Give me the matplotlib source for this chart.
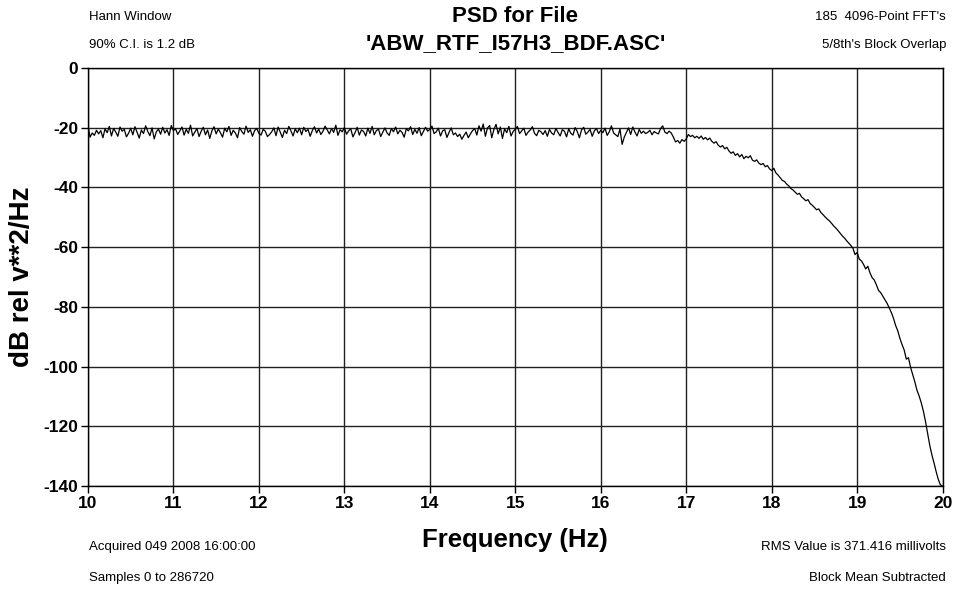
import numpy as np
from matplotlib import pyplot as plt

# PSD, one value every 0.025 Hz from 10 to 20 Hz
freq_start = 10.0
freq_stop = 20.0
psd_db = [
    -19.5, -23.2, -21.8, -22.6, -20.9, -22.1, -21.0, -23.4, -20.4, -21.7, -19.6, -22.8, -20.3, -21.5, -22.9, -19.8, -21.2, -20.6, -23.1, -21.9,
    -20.2, -22.4, -19.7, -21.6, -23.5, -20.8, -22.0, -19.4, -21.3, -22.7, -20.1, -23.8, -21.4, -20.5, -22.2, -19.9, -21.8, -20.7, -22.6, -19.3,
    -21.0, -20.4, -22.3, -21.1, -19.8, -22.5, -20.6, -21.9, -19.2, -22.8, -21.5, -20.3, -23.0, -21.2, -19.9, -22.4, -20.8, -23.6, -21.1, -19.7,
    -22.1, -20.5, -21.7, -23.2, -20.2, -21.4, -19.6, -22.6, -20.9, -21.8, -23.4, -20.0, -21.3, -22.2, -19.5, -21.6, -20.7, -22.9, -21.0, -20.3,
    -21.9, -22.5, -20.6, -21.2, -23.0, -22.3, -21.4, -20.1, -22.7, -19.8, -21.5, -23.3, -20.9, -22.0, -19.6, -21.1, -22.8, -20.4, -21.7, -20.2,
    -22.4, -19.9, -21.3, -20.6, -22.9, -21.0, -19.7, -21.8, -20.5, -22.3, -21.2, -19.5, -20.8, -22.1, -20.3, -21.6, -19.2, -22.6, -20.7, -21.4,
    -20.0, -22.2, -21.1, -20.4, -23.1, -21.7, -19.9, -22.5, -20.8, -21.3, -22.8, -20.2, -21.9, -19.6, -22.4, -21.0, -20.5, -23.0, -21.5, -20.1,
    -21.8, -22.6, -20.3, -21.4, -19.8, -22.1, -20.9, -21.6, -23.2, -20.4, -21.1, -19.7, -22.3, -20.6, -21.9, -20.0, -22.7, -21.3, -19.9, -21.2,
    -20.6, -19.5, -22.0, -21.4, -20.2, -22.8, -21.1, -20.7, -23.3, -21.6, -20.1, -22.4, -21.8, -23.0, -22.2, -23.9, -22.6, -21.5, -23.4, -22.1,
    -21.0, -20.3, -22.5, -19.4, -21.2, -18.8, -22.9, -20.1, -19.3, -23.4, -20.6, -18.9, -22.1, -19.8, -23.6, -20.4, -21.7, -19.6, -22.8, -21.3,
    -20.5, -19.6, -22.0, -21.1, -20.2, -22.6, -21.5, -20.8, -19.7, -21.9, -22.7, -20.9, -21.4, -22.3, -21.0, -22.9, -20.6, -21.8, -22.4, -20.3,
    -21.6, -22.8, -20.7, -21.2, -23.1, -20.4, -21.9, -22.5, -20.0, -21.3, -23.4, -20.8, -19.9, -22.2, -21.5, -20.6, -22.9, -21.1, -20.3, -22.0,
    -20.9, -21.7, -20.2, -22.6, -21.4, -19.4, -21.8, -22.4, -23.0, -20.5, -25.6, -23.2, -21.6, -20.1, -22.3, -19.8, -21.5, -22.8, -20.6, -21.9,
    -21.2, -22.0, -21.6, -20.9, -22.4, -21.3, -21.8, -22.1, -20.3, -19.4, -21.5, -22.0, -21.2, -21.8, -23.2, -24.8, -24.3, -25.2, -24.0, -24.6,
    -23.8, -22.3, -23.0, -22.6, -23.4, -22.9, -23.6, -22.8, -23.9, -23.3, -24.1, -23.5, -24.6, -25.2, -24.7, -25.9, -26.5, -26.0, -27.1, -26.6,
    -27.8, -28.6, -28.1, -29.3, -28.7, -29.8, -29.0, -30.4, -29.6, -30.1, -29.4, -30.9, -31.3, -30.8, -31.9, -32.4, -32.0, -33.1, -32.7, -33.8,
    -34.4, -33.6, -35.2, -35.9, -36.8, -37.7, -38.0, -38.9, -39.5, -40.4, -40.9, -41.6, -42.3, -42.0, -43.2, -43.8, -44.5, -44.1, -45.4, -46.0,
    -46.7, -47.5, -47.2, -48.4, -49.1, -49.9, -50.6, -51.2, -52.0, -52.9, -53.6, -54.4, -55.3, -56.2, -56.9, -57.8, -58.6, -59.4, -60.3, -62.5,
    -61.8, -64.0, -64.6, -65.8, -67.3, -66.4, -68.6, -70.2, -71.0, -72.6, -74.5, -75.2, -76.4, -77.6, -78.8, -80.3, -81.9, -83.8, -86.2, -88.0,
    -90.5, -92.6, -94.4, -97.5, -97.0, -100.2, -102.6, -105.1, -107.9, -109.8, -112.1, -114.9, -118.4, -122.5, -126.4, -129.6, -132.3, -135.2, -137.8, -139.6,
    -140.0,
]
freqs = np.linspace(freq_start, freq_stop, len(psd_db))

x_ticks = [10, 11, 12, 13, 14, 15, 16, 17, 18, 19, 20]
y_ticks = [0, -20, -40, -60, -80, -100, -120, -140]

title_lines = ["PSD for File", "'ABW_RTF_I57H3_BDF.ASC'"]
top_left = ["Hann Window", "90% C.I. is 1.2 dB"]
top_right = ["185  4096-Point FFT's", "5/8th's Block Overlap"]
bottom_left = ["Acquired 049 2008 16:00:00", "Samples 0 to 286720"]
bottom_right = ["RMS Value is 371.416 millivolts", "Block Mean Subtracted"]

plt.rcParams['axes.unicode_minus'] = False
font = ['Liberation Sans', 'DejaVu Sans']

fig = plt.figure(figsize=(9.56, 5.9), dpi=100)
ax = fig.add_axes([0.092, 0.176, 0.894, 0.709])

ax.plot(freqs, psd_db, color='black', lw=0.9)
ax.set_xlim(10, 20)
ax.set_ylim(-140, 0)
ax.set_xticks(x_ticks)
ax.set_yticks(y_ticks)
ax.grid(True, color='#222222', lw=1.0)
for sp in ax.spines.values():
    sp.set_color('black')
    sp.set_linewidth(1.0)
ax.tick_params(direction='out', length=5, width=1, color='black', pad=2)
for lab in ax.get_xticklabels() + ax.get_yticklabels():
    lab.set_family(font)
    lab.set_fontweight('bold')
    lab.set_fontsize(12.5)

ax.set_xlabel("Frequency (Hz)", family=font, fontweight='bold', fontsize=18.5)
ax.xaxis.set_label_coords(0.5, (486 - 540) / 418)
ax.xaxis.label.set_va('center')
ax.set_ylabel("dB rel v**2/Hz", family=font, fontweight='bold', fontsize=20)
ax.yaxis.set_label_coords((22 - 88) / 855, 0.5)
ax.yaxis.label.set_va('center')

# header and footer notes
fig.text(0.539, 1 - 17 / 590, title_lines[0], ha='center', va='center', family=font, fontweight='bold', fontsize=16)
fig.text(0.539, 1 - 44 / 590, title_lines[1], ha='center', va='center', family=font, fontweight='bold', fontsize=16)
fig.text(89 / 956, 1 - 17 / 590, top_left[0], ha='left', va='center', family=font, fontsize=9.5)
fig.text(89 / 956, 1 - 45 / 590, top_left[1], ha='left', va='center', family=font, fontsize=9.5)
fig.text(946 / 956, 1 - 17 / 590, top_right[0], ha='right', va='center', family=font, fontsize=9.5)
fig.text(946 / 956, 1 - 45 / 590, top_right[1], ha='right', va='center', family=font, fontsize=9.5)
fig.text(89 / 956, 1 - 547 / 590, bottom_left[0], ha='left', va='center', family=font, fontsize=9.5)
fig.text(89 / 956, 1 - 578 / 590, bottom_left[1], ha='left', va='center', family=font, fontsize=9.5)
fig.text(946 / 956, 1 - 547 / 590, bottom_right[0], ha='right', va='center', family=font, fontsize=9.5)
fig.text(946 / 956, 1 - 578 / 590, bottom_right[1], ha='right', va='center', family=font, fontsize=9.5)

fig.savefig('out.png', dpi=100)
